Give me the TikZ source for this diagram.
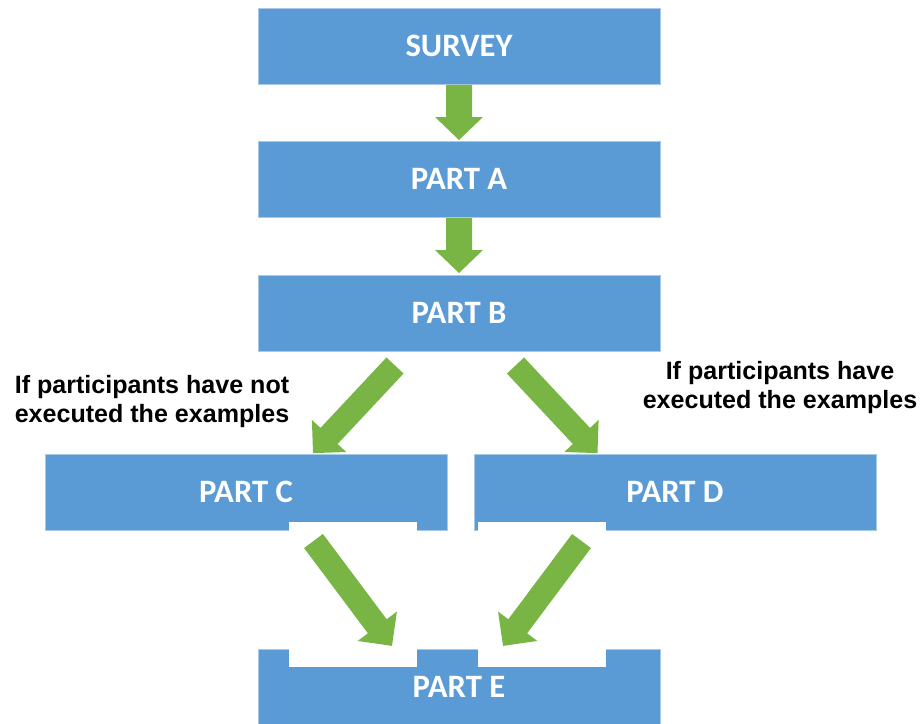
\documentclass[tikz,border=0pt]{standalone}
\usepackage{fontspec}
\newfontfamily\boxfont{Carlito}
\newfontfamily\notefont{Liberation Sans}
\definecolor{boxblue}{HTML}{5B9BD5}
\definecolor{boxedge}{HTML}{A9C9E9}
\definecolor{arrowgreen}{HTML}{78B545}

% block arrow: tail centre (x,y), direction angle, length, shaft width, head width, head length
\newcommand\blockarrow[7]{%
  \fill[arrowgreen, shift={(#1,#2)}, rotate=#3]
    (0,{-#5/2}) -- ({#4-#7},{-#5/2}) -- ({#4-#7},{-#6/2}) -- (#4,0)
    -- ({#4-#7},{#6/2}) -- ({#4-#7},{#5/2}) -- (0,{#5/2}) -- cycle;}

\begin{document}
\begin{tikzpicture}[x=0.75pt, y=-0.75pt,
  stage/.style={fill=boxblue, draw=boxedge, line width=0.6pt,
    minimum width=301.5pt, minimum height=57pt, inner sep=0pt,
    text=white, font=\boxfont\bfseries\fontsize{24.5}{28}\selectfont},
  note/.style={inner sep=0pt, align=center,
    font=\notefont\bfseries\fontsize{18.8}{21.75}\selectfont}]
\useasboundingbox (0,0) rectangle (921,724);

% stages
\node[stage] (survey) at (459,46)  {SURVEY};
\node[stage] (partA)  at (459,179) {PART A};
\node[stage] (partB)  at (459,313) {PART B};
\node[stage] (partC)  at (246,492) {PART C};
\node[stage] (partD)  at (675,492) {PART D};
\node[stage] (partE)  at (459,687) {PART E};

% white cut-outs where the lower arrows pass
\fill[white] (289,522) rectangle (417,532);
\fill[white] (478,522) rectangle (606,532);
\fill[white] (289,647) rectangle (417,667);
\fill[white] (478,647) rectangle (606,667);

% arrows
\blockarrow{459}{85}{-90}{55}{26}{48}{23}
\blockarrow{459}{218}{-90}{55}{26}{48}{23}
\blockarrow{395}{365.5}{226.9}{120}{23.5}{47}{23.5}
\blockarrow{515.5}{365.5}{-46.9}{120}{23.5}{47}{23.5}
\blockarrow{313.5}{541}{-53.2}{131}{23.5}{49}{24.5}
\blockarrow{581.5}{541}{233.2}{131}{23.5}{49}{24.5}

% branch conditions
\node[note] (condC) at (152,402) {If participants have not\\executed the examples};
\node[note] (condD) at (780,388) {If participants have\\executed the examples};
\end{tikzpicture}
\end{document}
